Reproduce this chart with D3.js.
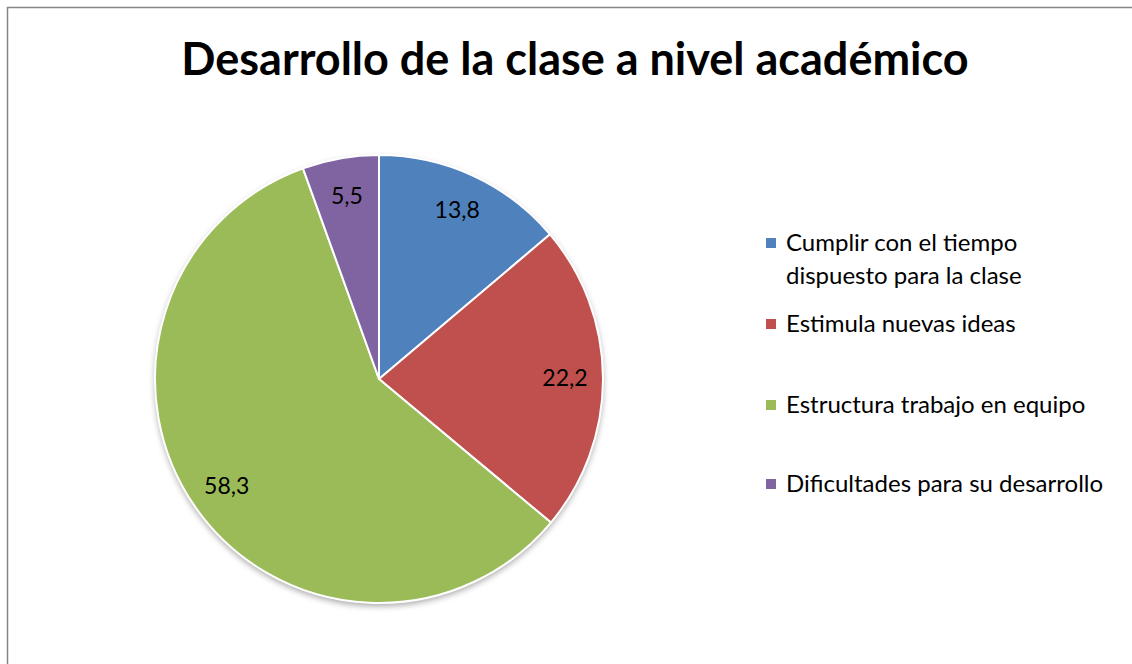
<!DOCTYPE html>
<html>
<head>
<meta charset="utf-8">
<script src="https://cdn.jsdelivr.net/npm/d3@7"></script>
<style>
  html, body { margin: 0; background: #fff; overflow: hidden; }
  svg { display: block; overflow: hidden; font-family: Lato, Carlito, Calibri, "Open Sans", sans-serif; }
</style>
</head>
<body>
<div id="chart"></div>
<script>
// Chart data
const categories = [
  'Cumplir con el tiempo dispuesto para la clase',
  'Estimula nuevas ideas',
  'Estructura trabajo en equipo',
  'Dificultades para su desarrollo'
];
const values = [13.8, 22.2, 58.3, 5.5];
const valueLabels = ['13,8', '22,2', '58,3', '5,5'];
// legend lines (first entry wraps)
const legendLines = [
  ['Cumplir con el tiempo', 'dispuesto para la clase'],
  ['Estimula nuevas ideas'],
  ['Estructura trabajo en equipo'],
  ['Dificultades para su desarrollo']
];
const palette = ['#4F81BD', '#C0504D', '#9BBB59', '#8064A2'];

const w = 1132, h = 664,
  cx = 379, cy = 379, r = 224;

const svg = d3.select('#chart').append('svg')
  .attr('width', w)
  .attr('height', h);

// soft shadow under the pie
const defs = svg.append('defs');
defs.append('filter')
  .attr('id', 'shadow')
  .attr('x', '-10%').attr('y', '-10%')
  .attr('width', '120%').attr('height', '125%')
  .append('feDropShadow')
  .attr('dx', 0).attr('dy', 3)
  .attr('stdDeviation', 3)
  .attr('flood-color', '#000')
  .attr('flood-opacity', 0.35);

// outer frame: only left and top edges are in view
svg.append('path')
  .attr('d', `M7.5,${h}V7.5H${w}`)
  .attr('fill', 'none')
  .attr('stroke', '#868686')
  .attr('stroke-width', 1.5);

// title
svg.append('text')
  .attr('x', 575)
  .attr('y', 75)
  .attr('text-anchor', 'middle')
  .attr('font-size', 45)
  .attr('font-weight', 'bold')
  .attr('fill', '#000')
  .text('Desarrollo de la clase a nivel académico');

const color = d3.scaleOrdinal().domain(categories).range(palette);

const pie = d3.pie().sort(null).value(d => d.value);
const data = categories.map((c, i) => ({ cat: c, value: values[i], label: valueLabels[i] }));
const arcs = pie(data);

const arc = d3.arc().innerRadius(0).outerRadius(r);
const labelArc = d3.arc().innerRadius(r * 0.83).outerRadius(r * 0.83);

const g = svg.append('g').attr('transform', `translate(${cx},${cy})`);

g.append('circle')
  .attr('r', r)
  .attr('fill', '#fff')
  .attr('filter', 'url(#shadow)');

g.selectAll('path.slice')
  .data(arcs)
  .enter()
  .append('path')
  .attr('class', 'slice')
  .attr('d', arc)
  .attr('fill', d => color(d.data.cat))
  .attr('stroke', '#fff')
  .attr('stroke-width', 2)
  .attr('stroke-linejoin', 'round');

g.selectAll('text.val')
  .data(arcs)
  .enter()
  .append('text')
  .attr('class', 'val')
  .attr('transform', d => `translate(${labelArc.centroid(d)})`)
  .attr('text-anchor', 'middle')
  .attr('dy', '0.35em')
  .attr('font-size', 23)
  .attr('fill', '#000')
  .text(d => d.data.label);

// legend
const legendX = 766;
const legendY = [243, 324, 405, 484];
const lineH = 33;

const lg = svg.selectAll('g.legend')
  .data(categories)
  .enter()
  .append('g')
  .attr('class', 'legend')
  .attr('transform', (d, i) => `translate(${legendX},${legendY[i]})`);

lg.append('rect')
  .attr('x', 0).attr('y', -5)
  .attr('width', 10).attr('height', 10)
  .attr('fill', d => color(d));

lg.append('text')
  .attr('x', 20)
  .attr('font-size', 24)
  .attr('fill', '#000')
  .selectAll('tspan')
  .data((d, i) => legendLines[i])
  .enter()
  .append('tspan')
  .attr('x', 20)
  .attr('y', (d, i) => i * lineH)
  .attr('dy', '0.35em')
  .text(d => d);
</script>
</body>
</html>
